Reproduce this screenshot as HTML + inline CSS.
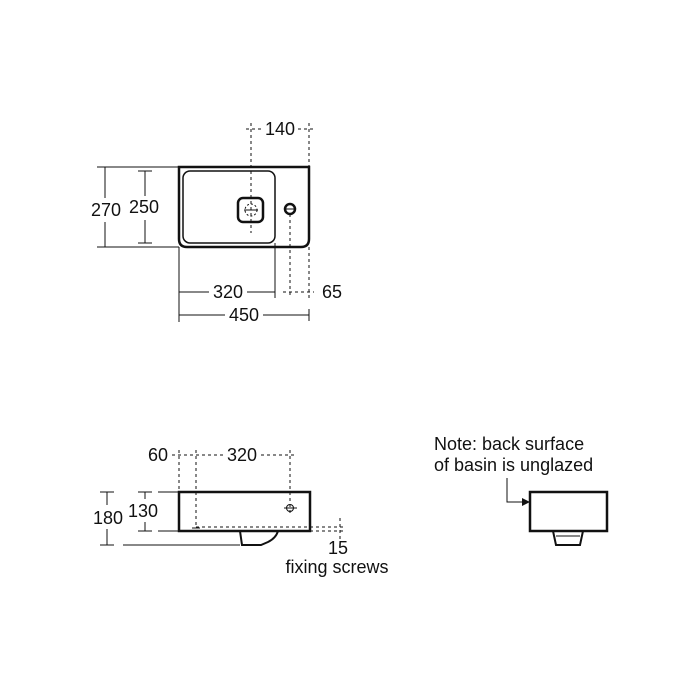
<!DOCTYPE html>
<html><head><meta charset="utf-8"><style>
html,body{margin:0;padding:0;background:#fff}
svg{display:block}
text{font-family:"Liberation Sans",Arial,sans-serif;font-size:18px;fill:#111}
.m{text-anchor:middle}
</style></head><body>
<svg width="700" height="700" viewBox="0 0 700 700" xmlns="http://www.w3.org/2000/svg">
<g fill="none" stroke="#111">
<path d="M179,167 H309 V239 Q309,247 301,247 H187 Q179,247 179,239 Z" stroke-width="2.5"/>
<rect x="183" y="171" width="92" height="72" rx="7" stroke-width="1.5"/>
<rect x="238" y="198" width="25" height="24" rx="5" stroke-width="2.5"/>
<circle cx="251" cy="210" r="6" stroke-width="1" stroke-dasharray="2,2"/>
<circle cx="290" cy="209" r="5" stroke-width="2.5"/>
<g stroke-width="1">
<line x1="244" y1="210" x2="258" y2="210"/>
<line x1="284" y1="209" x2="296" y2="209"/>
<g stroke-dasharray="3,3">
<line x1="251" y1="123" x2="251" y2="233"/>
<line x1="309" y1="123" x2="309" y2="167"/>
<line x1="309" y1="247" x2="309" y2="300"/>
<line x1="290" y1="214" x2="290" y2="298"/>
<line x1="246" y1="129" x2="263" y2="129"/>
<line x1="298" y1="129" x2="314" y2="129"/>
<line x1="283" y1="292" x2="314" y2="292"/>
</g>
<line x1="97" y1="167" x2="179" y2="167"/>
<line x1="97" y1="247" x2="179" y2="247"/>
<line x1="105" y1="167" x2="105" y2="198"/><line x1="105" y1="222" x2="105" y2="247"/>
<line x1="98" y1="167" x2="112" y2="167"/><line x1="98" y1="247" x2="112" y2="247"/>
<line x1="145" y1="171" x2="145" y2="196"/><line x1="145" y1="220" x2="145" y2="243"/>
<line x1="138" y1="171" x2="152" y2="171"/><line x1="138" y1="243" x2="152" y2="243"/>
<line x1="179" y1="247" x2="179" y2="322"/>
<line x1="275" y1="243" x2="275" y2="298"/>
<line x1="179" y1="292" x2="209" y2="292"/><line x1="247" y1="292" x2="275" y2="292"/>
<line x1="179" y1="315" x2="225" y2="315"/><line x1="263" y1="315" x2="309" y2="315"/>
<line x1="179" y1="309" x2="179" y2="321"/><line x1="309" y1="309" x2="309" y2="321"/>
</g>
<path d="M179,492 H310 V531 H179 Z" stroke-width="2.5"/>
<path d="M240,531 L242,545 H261 L268,542 Q276,538 278,531" stroke-width="2"/>
<g stroke-width="1">
<line x1="123" y1="545" x2="240" y2="545"/>
<line x1="100" y1="492" x2="114" y2="492"/><line x1="100" y1="545" x2="114" y2="545"/>
<line x1="107" y1="492" x2="107" y2="505"/><line x1="107" y1="529" x2="107" y2="545"/>
<line x1="138" y1="492" x2="152" y2="492"/><line x1="138" y1="531" x2="152" y2="531"/>
<line x1="145" y1="492" x2="145" y2="499"/><line x1="145" y1="522" x2="145" y2="531"/>
<line x1="158" y1="492" x2="179" y2="492"/><line x1="158" y1="531" x2="179" y2="531"/>
<line x1="284" y1="508" x2="297" y2="508"/>
<circle cx="290" cy="508" r="3.5"/>
<line x1="192" y1="528" x2="200" y2="528"/>
<g stroke-dasharray="3,3">
<line x1="179" y1="450" x2="179" y2="492"/>
<line x1="196" y1="450" x2="196" y2="528"/>
<line x1="290" y1="450" x2="290" y2="514"/>
<line x1="172" y1="455" x2="224" y2="455"/>
<line x1="261" y1="455" x2="295" y2="455"/>
<line x1="196" y1="527" x2="345" y2="527"/>
<line x1="310" y1="531" x2="345" y2="531"/>
<line x1="340" y1="518" x2="340" y2="540"/>
</g>
</g>
<rect x="530" y="492" width="77" height="39" stroke-width="2.5"/>
<path d="M553,531 L556,545 H580 L583,531" stroke-width="2"/>
<path d="M556,536 H580" stroke-width="1"/>
<path d="M507,478 V502 H524" stroke-width="1"/>
</g>
<path d="M530,502 L522,498 V506 Z" fill="#111"/>
<text class="m" x="280" y="135">140</text>
<text class="m" x="106" y="216">270</text>
<text class="m" x="144" y="213">250</text>
<text class="m" x="228" y="298">320</text>
<text class="m" x="332" y="298">65</text>
<text class="m" x="244" y="321">450</text>
<text class="m" x="158" y="461">60</text>
<text class="m" x="242" y="461">320</text>
<text class="m" x="108" y="524">180</text>
<text class="m" x="143" y="517">130</text>
<text class="m" x="338" y="554">15</text>
<text class="m" x="337" y="573">fixing screws</text>
<text x="434" y="450">Note: back surface</text>
<text x="434" y="471">of basin is unglazed</text>
</svg>
</body></html>
